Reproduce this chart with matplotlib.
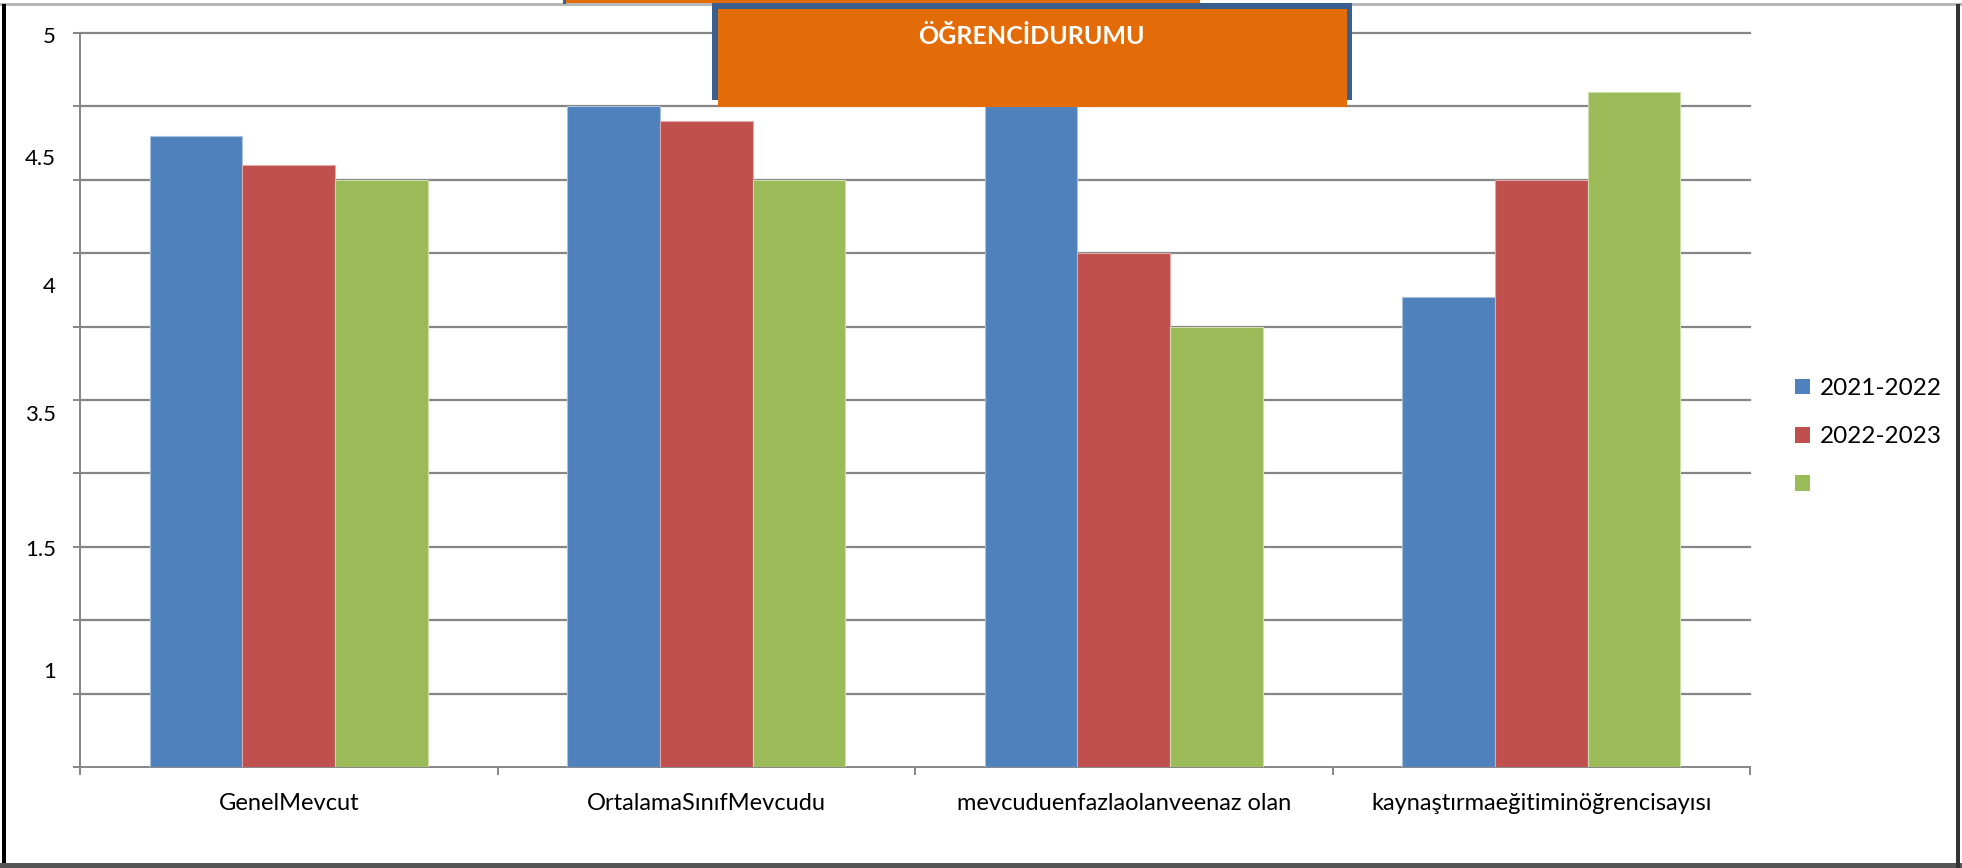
import matplotlib
matplotlib.use('Agg')
import matplotlib.pyplot as plt
from matplotlib.patches import Rectangle, Patch
import numpy as np

plt.rcParams['font.family'] = ['Lato', 'DejaVu Sans']

# Data (grid units, 0 = axis, 10 = top line)
categories = ['GenelMevcut', 'OrtalamaSınıfMevcudu',
              'mevcuduenfazlaolanveenaz olan', 'kaynaştırmaeğitiminöğrencisayısı']
series_names = ['2021-2022', '2022-2023', '']
values_2021 = [8.6, 9.0, 9.0, 6.4]
values_2022 = [8.2, 8.8, 7.0, 8.0]
values_3rd = [8.0, 8.0, 6.0, 9.2]
ytick_labels = ['5', '4.5', '4', '3.5', '1.5', '1']
ytick_label_pos = [9.95, 8.28, 6.54, 4.80, 2.96, 1.29]
title = 'ÖĞRENCİDURUMU'

colors = ['#4F81BD', '#C0504D', '#9BBB59']
edges = ['#A7C0DE', '#E0A8A6', '#CDDDAC']
grid_color = '#868686'

W, H = 1962, 868
fig = plt.figure(figsize=(W / 100, H / 100), dpi=100)
fig.patch.set_facecolor('white')

ax = fig.add_axes([80 / W, (H - 767) / H, 1670 / W, 734 / H])
ax.set_xlim(0, 4)
ax.set_ylim(0, 10)

bw = 1 / 4.5
all_vals = [values_2021, values_2022, values_3rd]
x = np.arange(len(categories)) + 0.5
for j, vals in enumerate(all_vals):
    ax.bar(x + (j - 1) * bw, vals, width=bw, color=colors[j],
           edgecolor=edges[j], linewidth=0.8, zorder=3)

# gridlines
for yv in range(1, 11):
    ax.axhline(yv, color=grid_color, lw=1.6, zorder=1, clip_on=False)

for s in ['top', 'right']:
    ax.spines[s].set_visible(False)
for s in ['left', 'bottom']:
    ax.spines[s].set_color(grid_color)
    ax.spines[s].set_linewidth(1.4)

ax.set_yticks(range(0, 11))
ax.set_yticklabels([])
ax.tick_params(axis='y', length=5, width=1.4, color=grid_color, direction='out')

ax.set_xticks(range(0, 5))
ax.set_xticklabels([])
ax.tick_params(axis='x', which='major', length=6, width=1.4, color=grid_color, direction='out')
ax.set_xticks(x, minor=True)
ax.set_xticklabels(categories, minor=True, fontsize=17)
ax.tick_params(axis='x', which='minor', length=0, pad=19)

# odd y labels
trans = ax.get_yaxis_transform()
for lab, yp in zip(ytick_labels, ytick_label_pos):
    ax.text(-0.0145, yp, lab, transform=trans, ha='right', va='center', fontsize=16)

# legend
handles = [Patch(facecolor=c, edgecolor='none') for c in colors]
fig.legend(handles, series_names, loc='upper left',
           bbox_to_anchor=(1795 / W, 1 - 378 / H), bbox_transform=fig.transFigure,
           frameon=False, fontsize=17.5, handlelength=0.62, handleheight=0.62,
           handletextpad=0.4, labelspacing=1.12, borderpad=0, borderaxespad=0)

# title box
def fig_rect(x0, y0, x1, y1, color, z):
    fig.patches.append(Rectangle((x0 / W, 1 - y1 / H), (x1 - x0) / W, (y1 - y0) / H,
                                 transform=fig.transFigure, facecolor=color,
                                 edgecolor='none', zorder=z))

fig_rect(0, 3, W, 6, '#B8B8B8', 5)
fig_rect(563, 0, 566, 4, '#3A5F8F', 6)
fig_rect(566, 0, 1200, 3, '#E36C09', 6)
fig_rect(712, 3, 1352, 100, '#3A5F8F', 7)
fig_rect(718, 9, 1347, 107, '#E36C09', 8)
fig.text(1031 / W, 1 - 36 / H, title, color='white', fontsize=18, fontweight='bold',
         ha='center', va='center', zorder=9)

# outer frame
fig_rect(2, 4, 6, H, 'black', 5)
fig_rect(0, 863, W, H, '#555555', 5)
fig_rect(1956, 4, 1960, H, '#333333', 5)

fig.savefig('out.png', dpi=100)
